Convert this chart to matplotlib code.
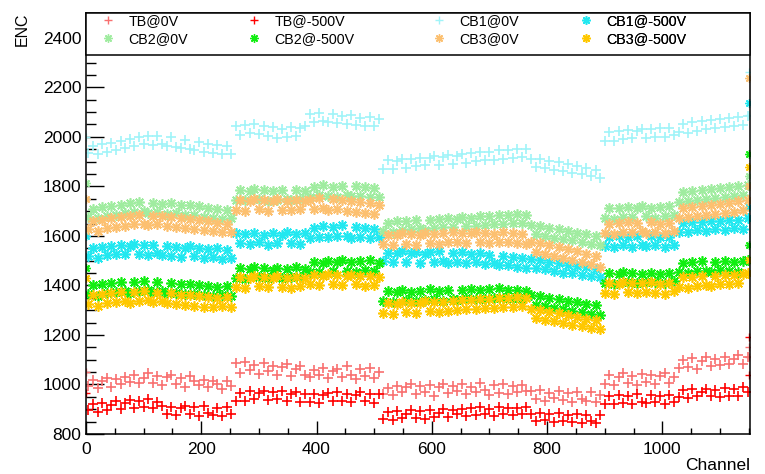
import numpy as np
import matplotlib
matplotlib.use("Agg")
import matplotlib.pyplot as plt
from matplotlib.patches import Rectangle
from matplotlib.lines import Line2D

plt.rcParams['font.family'] = ['Liberation Sans', 'DejaVu Sans']

# ---------------- data ----------------
# channel numbers (centre of each 8-channel group)
channels = np.arange(4, 1152, 8)
# edge channels with elevated values
edge_channels = [0, 1150, 1151]

labels = ["TB@0V", "TB@-500V", "CB1@0V", "CB1@-500V",
          "CB2@0V", "CB2@-500V", "CB3@0V", "CB3@-500V"]

tb_0v = [
    992, 1018, 985, 1012, 1026, 990, 1021, 1000, 1032, 1008, 1040, 1004, 1028, 1045, 1006, 1034,
    998, 1030, 1038, 1002, 1027, 990, 1035, 1012, 996, 1020, 988, 1015, 1002, 982, 1016, 994,
    1085, 1048, 1092, 1060, 1078, 1042, 1088, 1055, 1074, 1040, 1070, 1082, 1036, 1062, 1075, 1038,
    1030, 1060, 1038, 1068, 1025, 1055, 1064, 1030, 1075, 1040, 1022, 1062, 1034, 1066, 1026, 1050,
    962, 985, 958, 995, 968, 990, 1002, 960, 992, 970, 998, 955, 988, 1003, 966, 994,
    972, 1000, 960, 990, 968, 1005, 978, 958, 996, 965, 1000, 962, 992, 970, 998, 975,
    975, 940, 978, 935, 965, 945, 975, 936, 966, 930, 970, 942, 935, 968, 928, 958,
    1000, 1040, 996, 1032, 1045, 1004, 1036, 998, 1042, 1010, 1038, 1002, 1035, 1045, 1005, 1030,
    1068, 1098, 1072, 1106, 1064, 1095, 1110, 1074, 1102, 1078, 1112, 1082, 1104, 1120, 1084, 1112,
]
tb_500v = [
    895, 920, 888, 925, 895, 918, 932, 900, 926, 938, 905, 932, 910, 940, 906, 930,
    915, 882, 908, 878, 905, 915, 880, 908, 874, 912, 884, 876, 906, 872, 908, 880,
    935, 966, 932, 972, 940, 965, 975, 936, 968, 940, 972, 932, 962, 970, 930, 960,
    928, 960, 925, 956, 966, 932, 968, 935, 962, 928, 958, 970, 934, 960, 926, 962,
    862, 890, 858, 894, 866, 880, 896, 865, 892, 860, 898, 868, 885, 900, 870, 895,
    882, 902, 872, 905, 876, 908, 880, 900, 874, 910, 880, 904, 875, 906, 882, 910,
    882, 852, 886, 855, 880, 848, 884, 854, 878, 850, 882, 846, 876, 852, 845, 878,
    922, 955, 920, 958, 926, 952, 922, 960, 930, 924, 957, 928, 954, 920, 956, 930,
    950, 978, 945, 980, 952, 968, 982, 954, 978, 950, 984, 955, 980, 952, 988, 970,
]
cb1_0v = [
    1935, 1962, 1930, 1970, 1940, 1975, 1948, 1982, 1955, 1990, 1962, 1998, 1970, 2002, 1966, 2004,
    1972, 1962, 1998, 1960, 1955, 1988, 1950, 1945, 1978, 1940, 1970, 1936, 1965, 1932, 1962, 1930,
    2042, 2008, 2048, 2015, 2052, 2010, 2045, 2004, 2040, 1996, 2032, 2000, 2038, 2005, 2034, 2042,
    2094, 2060, 2098, 2064, 2058, 2092, 2054, 2085, 2050, 2090, 2046, 2078, 2042, 2082, 2045, 2072,
    1872, 1905, 1870, 1902, 1910, 1876, 1912, 1882, 1916, 1886, 1914, 1922, 1888, 1920, 1926, 1892,
    1924, 1930, 1896, 1934, 1902, 1938, 1906, 1940, 1908, 1945, 1912, 1948, 1915, 1950, 1918, 1952,
    1910, 1880, 1912, 1874, 1902, 1866, 1898, 1860, 1892, 1854, 1884, 1848, 1874, 1840, 1866, 1832,
    1985, 2018, 1984, 2024, 1990, 2026, 1994, 2022, 2030, 1995, 2032, 2000, 2034, 1998, 2036, 2006,
    2018, 2052, 2016, 2058, 2024, 2062, 2030, 2068, 2034, 2070, 2038, 2076, 2042, 2080, 2048, 2084,
]
cb1_500v = [
    1518, 1550, 1512, 1555, 1522, 1560, 1528, 1565, 1526, 1558, 1568, 1528, 1562, 1524, 1564, 1530,
    1522, 1560, 1520, 1554, 1515, 1552, 1558, 1518, 1550, 1510, 1546, 1514, 1552, 1508, 1544, 1512,
    1612, 1572, 1608, 1568, 1612, 1575, 1605, 1565, 1610, 1570, 1604, 1616, 1572, 1608, 1566, 1612,
    1592, 1630, 1596, 1638, 1594, 1634, 1598, 1644, 1600, 1592, 1636, 1596, 1632, 1590, 1628, 1594,
    1498, 1532, 1494, 1530, 1538, 1496, 1530, 1536, 1492, 1528, 1534, 1494, 1538, 1498, 1492, 1530,
    1496, 1534, 1490, 1526, 1494, 1530, 1486, 1524, 1490, 1484, 1520, 1482, 1516, 1476, 1512, 1472,
    1505, 1472, 1504, 1466, 1496, 1460, 1492, 1452, 1484, 1450, 1480, 1442, 1474, 1436, 1468, 1432,
    1558, 1594, 1555, 1598, 1562, 1596, 1556, 1600, 1564, 1560, 1598, 1562, 1596, 1556, 1594, 1562,
    1616, 1652, 1614, 1658, 1622, 1656, 1618, 1662, 1626, 1660, 1624, 1666, 1630, 1664, 1628, 1672,
]
cb2_0v = [
    1676, 1710, 1672, 1716, 1682, 1722, 1686, 1726, 1692, 1732, 1696, 1736, 1700, 1694, 1734, 1698,
    1730, 1690, 1732, 1694, 1726, 1686, 1724, 1684, 1720, 1678, 1714, 1674, 1710, 1670, 1706, 1672,
    1746, 1786, 1744, 1782, 1790, 1748, 1784, 1742, 1782, 1746, 1786, 1750, 1744, 1784, 1748, 1780,
    1758, 1798, 1764, 1804, 1762, 1796, 1756, 1802, 1766, 1760, 1800, 1762, 1796, 1756, 1792, 1758,
    1618, 1654, 1614, 1660, 1622, 1662, 1626, 1666, 1630, 1624, 1664, 1630, 1670, 1634, 1672, 1636,
    1670, 1676, 1638, 1674, 1640, 1680, 1644, 1682, 1646, 1684, 1650, 1686, 1652, 1690, 1654, 1686,
    1642, 1606, 1640, 1598, 1632, 1592, 1626, 1586, 1620, 1582, 1612, 1574, 1606, 1568, 1600, 1562,
    1674, 1712, 1670, 1714, 1678, 1718, 1676, 1712, 1720, 1680, 1714, 1674, 1716, 1680, 1720, 1684,
    1738, 1776, 1740, 1782, 1746, 1786, 1750, 1790, 1754, 1792, 1756, 1796, 1760, 1800, 1764, 1804,
]
cb2_500v = [
    1364, 1400, 1358, 1404, 1368, 1410, 1374, 1414, 1378, 1370, 1412, 1376, 1416, 1380, 1372, 1412,
    1378, 1370, 1410, 1368, 1404, 1366, 1406, 1364, 1400, 1360, 1398, 1356, 1394, 1360, 1396, 1358,
    1430, 1470, 1426, 1466, 1474, 1432, 1470, 1428, 1464, 1472, 1430, 1466, 1434, 1474, 1432, 1468,
    1456, 1496, 1454, 1492, 1500, 1458, 1494, 1504, 1460, 1496, 1456, 1498, 1462, 1502, 1458, 1492,
    1338, 1376, 1334, 1372, 1380, 1340, 1374, 1336, 1378, 1342, 1384, 1344, 1376, 1338, 1382, 1346,
    1342, 1380, 1348, 1386, 1344, 1380, 1346, 1384, 1350, 1388, 1348, 1382, 1344, 1380, 1346, 1378,
    1360, 1322, 1356, 1316, 1350, 1310, 1344, 1304, 1338, 1298, 1332, 1292, 1326, 1286, 1320, 1282,
    1410, 1450, 1406, 1446, 1454, 1414, 1450, 1410, 1448, 1414, 1452, 1412, 1446, 1408, 1450, 1416,
    1454, 1492, 1450, 1494, 1458, 1498, 1460, 1456, 1496, 1462, 1500, 1458, 1494, 1456, 1498, 1502,
]
cb3_0v = [
    1626, 1662, 1620, 1666, 1630, 1672, 1636, 1676, 1640, 1682, 1646, 1684, 1650, 1644, 1682, 1646,
    1680, 1640, 1676, 1636, 1672, 1632, 1670, 1628, 1664, 1624, 1660, 1618, 1654, 1614, 1650, 1616,
    1706, 1746, 1702, 1742, 1750, 1708, 1744, 1700, 1740, 1748, 1706, 1742, 1704, 1744, 1708, 1740,
    1746, 1710, 1752, 1714, 1706, 1748, 1710, 1744, 1702, 1740, 1698, 1736, 1694, 1732, 1690, 1726,
    1566, 1604, 1562, 1602, 1610, 1568, 1606, 1564, 1604, 1612, 1570, 1608, 1568, 1610, 1574, 1614,
    1576, 1612, 1572, 1610, 1616, 1576, 1612, 1570, 1608, 1574, 1614, 1576, 1610, 1570, 1606, 1566,
    1574, 1536, 1570, 1528, 1562, 1520, 1554, 1512, 1546, 1504, 1538, 1496, 1528, 1486, 1520, 1476,
    1612, 1650, 1608, 1654, 1616, 1658, 1614, 1652, 1618, 1610, 1656, 1616, 1650, 1612, 1654, 1620,
    1674, 1712, 1678, 1718, 1682, 1722, 1686, 1726, 1690, 1730, 1694, 1734, 1698, 1740, 1704, 1746,
]
cb3_500v = [
    1324, 1360, 1318, 1364, 1328, 1370, 1334, 1374, 1338, 1330, 1372, 1336, 1376, 1340, 1332, 1370,
    1336, 1330, 1368, 1326, 1362, 1322, 1360, 1318, 1356, 1314, 1354, 1312, 1350, 1316, 1352, 1314,
    1394, 1434, 1390, 1430, 1438, 1396, 1432, 1392, 1428, 1436, 1394, 1430, 1388, 1432, 1396, 1428,
    1404, 1442, 1400, 1440, 1446, 1406, 1442, 1402, 1438, 1444, 1404, 1440, 1398, 1436, 1402, 1434,
    1290, 1330, 1286, 1326, 1334, 1294, 1330, 1288, 1328, 1336, 1296, 1332, 1292, 1334, 1298, 1338,
    1302, 1342, 1304, 1340, 1306, 1346, 1308, 1344, 1310, 1350, 1312, 1348, 1314, 1352, 1316, 1348,
    1306, 1270, 1302, 1262, 1294, 1256, 1288, 1248, 1280, 1242, 1274, 1236, 1266, 1228, 1260, 1222,
    1370, 1410, 1366, 1406, 1414, 1374, 1410, 1368, 1408, 1374, 1412, 1370, 1406, 1366, 1410, 1376,
    1394, 1432, 1390, 1434, 1398, 1438, 1402, 1396, 1440, 1404, 1444, 1406, 1442, 1408, 1448, 1452,
]

edge_values = {
    "TB@0V": [1050, 1110, 1150],
    "TB@-500V": [965, 1040, 1190],
    "CB1@0V": [2000, 2090, 2262],
    "CB1@-500V": [1600, 1718, 2137],
    "CB2@0V": [1815, 1800, 1840],
    "CB2@-500V": [1470, 1565, 1931],
    "CB3@0V": [1750, 1800, 2238],
    "CB3@-500V": [1430, 1504, 1879],
}

series = [tb_0v, tb_500v, cb1_0v, cb1_500v, cb2_0v, cb2_500v, cb3_0v, cb3_500v]

# ---------------- style ----------------
colors = ["#f87070", "#ff0000", "#a0f4f8", "#22e8f0",
          "#a0eca0", "#11ee11", "#fcc070", "#ffc800"]
plus = "+"
star = (8, 2, 0)
markers = [plus, plus, plus, star, star, star, star, star]

fig = plt.figure(figsize=(7.65, 4.74), dpi=100)
ax = fig.add_axes([86 / 765, 40 / 474, 664 / 765, 421 / 474])

for lab, vals, col, mk in zip(labels, series, colors, markers):
    ax.plot(channels, vals, linestyle="none", marker=mk, ms=7.5, mew=1.2,
            color=col)
    ax.plot(edge_channels, edge_values[lab], linestyle="none", marker=mk,
            ms=6, mew=1.0, color=col)

ax.set_xlim(0, 1152)
ax.set_ylim(800, 2500)
ax.set_xticks([0, 200, 400, 600, 800, 1000])
ax.set_xticks(np.arange(0, 1152, 50), minor=True)
ax.set_yticks(np.arange(800, 2401, 200))
ax.set_yticks(np.arange(800, 2500, 50), minor=True)

ax.tick_params(axis="both", which="both", direction="in", top=False,
               right=False, labelsize=12.5, width=1.0, color="black")
ax.tick_params(axis="y", which="major", length=13, pad=3.5)
ax.tick_params(axis="y", which="minor", length=7)
ax.tick_params(axis="x", which="major", length=9.5, pad=5.5)
ax.tick_params(axis="x", which="minor", length=4.5)
for sp in ax.spines.values():
    sp.set_linewidth(1.1)

ax.set_xlabel("Channel", fontsize=12.5, loc="right")
ax.xaxis.set_label_coords(1.0, -0.057)
ax.xaxis.label.set_va("top")
ax.set_ylabel("ENC", fontsize=11.5, loc="top")
ax.yaxis.set_label_coords(-0.084, 1.0)

# legend box across the top of the frame
ax.add_patch(Rectangle((0, 0.9), 1, 0.1, transform=ax.transAxes,
                       facecolor="white", edgecolor="black", lw=1.1,
                       zorder=5, clip_on=False))

handles = [Line2D([], [], linestyle="none", marker=m, ms=6, mew=1.0, color=c)
           for m, c in zip(markers, colors)]
# columns: (TB@0V, CB2@0V), (TB@-500V, CB2@-500V), (CB1@0V, CB3@0V), (CB1@-500V, CB3@-500V)
col_groups = [(0, 4), (1, 5), (2, 6), (3, 7)]
col_anchor = [0.0206, 0.2405, 0.5191, 0.7405]
for (i, j), xa in zip(col_groups, col_anchor):
    lg = ax.legend([handles[i], handles[j]], [labels[i], labels[j]],
                   loc="upper left", bbox_to_anchor=(xa, 1.0),
                   frameon=False, fontsize=10.3, handlelength=1.0,
                   handletextpad=0.94, borderpad=0.05, borderaxespad=0.0,
                   labelspacing=0.32)
    lg.set_zorder(6)
    ax.add_artist(lg)

fig.savefig("out.png", dpi=100)
